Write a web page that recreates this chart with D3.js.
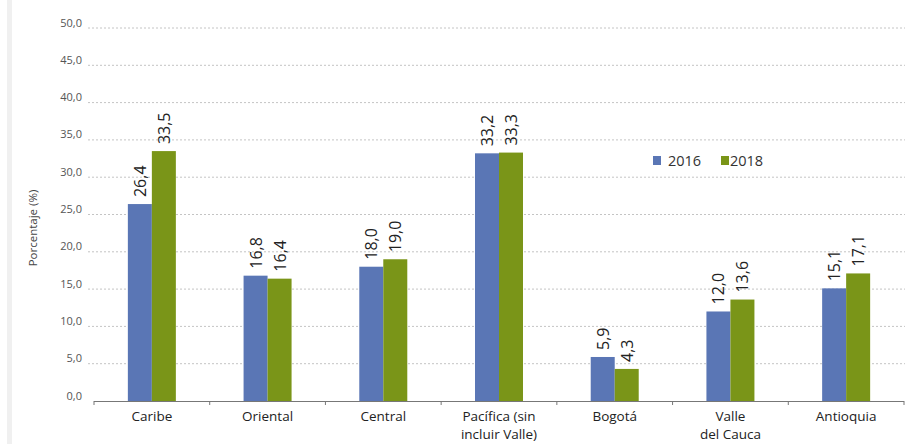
<!DOCTYPE html>
<html lang="es">
<head>
<meta charset="utf-8">
<script src="https://cdn.jsdelivr.net/npm/d3@7"></script>
<style>
  html, body { margin: 0; padding: 0; background: #fff; }
  svg { display: block; font-family: "Open Sans", sans-serif; }
</style>
</head>
<body>
<div id="chart"></div>
<script>
// datos
var regiones = ["Caribe", "Oriental", "Central", "Pacífica (sin|incluir Valle)", "Bogotá", "Valle|del Cauca", "Antioquia"];
var anios = ["2016", "2018"];
var v2016 = [26.4, 16.8, 18.0, 33.2, 5.9, 12.0, 15.1];
var v2018 = [33.5, 16.4, 19.0, 33.3, 4.3, 13.6, 17.1];
var yTicks = [0, 5, 10, 15, 20, 25, 30, 35, 40, 45, 50];

var width = 909, height = 444;
var colores = { "2016": "#5a76b5", "2018": "#7a9518" };
var fmt = function(v) { return d3.format(".1f")(v).replace(".", ","); };

var svg = d3.select("#chart").append("svg")
    .attr("width", width)
    .attr("height", height);

// franja gris a la izquierda
svg.append("rect").attr("x", 7).attr("y", 0).attr("width", 5).attr("height", height).attr("fill", "#f0f0f0");

var x0 = d3.scaleBand().domain(regiones).range([94, 904]);
var x1 = d3.scaleBand().domain(anios)
    .range([x0.bandwidth() / 2 - 24, x0.bandwidth() / 2 + 24]);
var y = d3.scaleLinear().domain([0, 50]).range([401, 28]);

// grilla
svg.append("g").selectAll("line")
    .data(yTicks.slice(1))
    .join("line")
    .attr("x1", 88).attr("x2", 905)
    .attr("y1", d => y(d)).attr("y2", d => y(d))
    .attr("stroke", "#c4c4c4")
    .attr("stroke-width", 1)
    .attr("stroke-dasharray", "2 2");

// etiquetas eje y
svg.append("g").selectAll("text")
    .data(yTicks)
    .join("text")
    .attr("x", 82)
    .attr("y", d => y(d) - 1.5)
    .attr("text-anchor", "end")
    .attr("font-size", 11)
    .attr("fill", "#555")
    .text(d => fmt(d));

svg.append("text")
    .attr("transform", "translate(37,228) rotate(-90)")
    .attr("text-anchor", "middle")
    .attr("font-size", 11.5)
    .attr("fill", "#444")
    .text("Porcentaje (%)");

// barras
var series = [v2016, v2018];
var grupos = svg.append("g").selectAll("g")
    .data(regiones)
    .join("g")
    .attr("transform", d => "translate(" + x0(d) + ",0)");

grupos.selectAll("rect")
    .data((d, i) => anios.map((a, j) => ({ anio: a, v: series[j][i] })))
    .join("rect")
    .attr("x", d => x1(d.anio))
    .attr("width", x1.bandwidth())
    .attr("y", d => y(d.v))
    .attr("height", d => y(0) - y(d.v))
    .attr("fill", d => colores[d.anio]);

grupos.selectAll("text.val")
    .data((d, i) => anios.map((a, j) => ({ anio: a, v: series[j][i] })))
    .join("text")
    .attr("class", "val")
    .attr("transform", d => "translate(" + (x1(d.anio) + x1.bandwidth() / 2 + 6) + "," + (y(d.v) - 7) + ") rotate(-90)")
    .attr("font-size", 16)
    .attr("fill", "#222")
    .text(d => fmt(d.v));

// eje x
var ejeX = svg.append("g");
ejeX.append("line")
    .attr("x1", 94).attr("x2", 904)
    .attr("y1", y(0) + 0.5).attr("y2", y(0) + 0.5)
    .attr("stroke", "#777");
ejeX.selectAll("line.tick")
    .data(regiones.concat(["fin"]))
    .join("line")
    .attr("class", "tick")
    .attr("x1", (d, i) => i < regiones.length ? x0(d) : 904)
    .attr("x2", (d, i) => i < regiones.length ? x0(d) : 904)
    .attr("y1", y(0)).attr("y2", y(0) + 4)
    .attr("stroke", "#777");

ejeX.selectAll("text")
    .data(regiones)
    .join("text")
    .attr("x", d => x0(d) + x0.bandwidth() / 2)
    .attr("y", 421)
    .attr("text-anchor", "middle")
    .attr("font-size", 13.5)
    .attr("fill", "#222")
    .each(function(d) {
        var partes = d.split("|");
        var t = d3.select(this);
        partes.forEach(function(p, k) {
            t.append("tspan")
                .attr("x", x0(d) + x0.bandwidth() / 2)
                .attr("dy", k === 0 ? 0 : 18)
                .text(p);
        });
    });

// leyenda
var ley = svg.append("g").attr("transform", "translate(653,156)");
anios.forEach(function(a, i) {
    var g = ley.append("g").attr("transform", "translate(" + (i * 68) + ",0)");
    g.append("rect").attr("width", 8).attr("height", 9).attr("fill", colores[a]);
    g.append("text").attr("x", i === 0 ? 15 : 9).attr("y", 9.5)
        .attr("font-size", 14.5).attr("fill", "#333").text(a);
});
</script>
</body>
</html>
